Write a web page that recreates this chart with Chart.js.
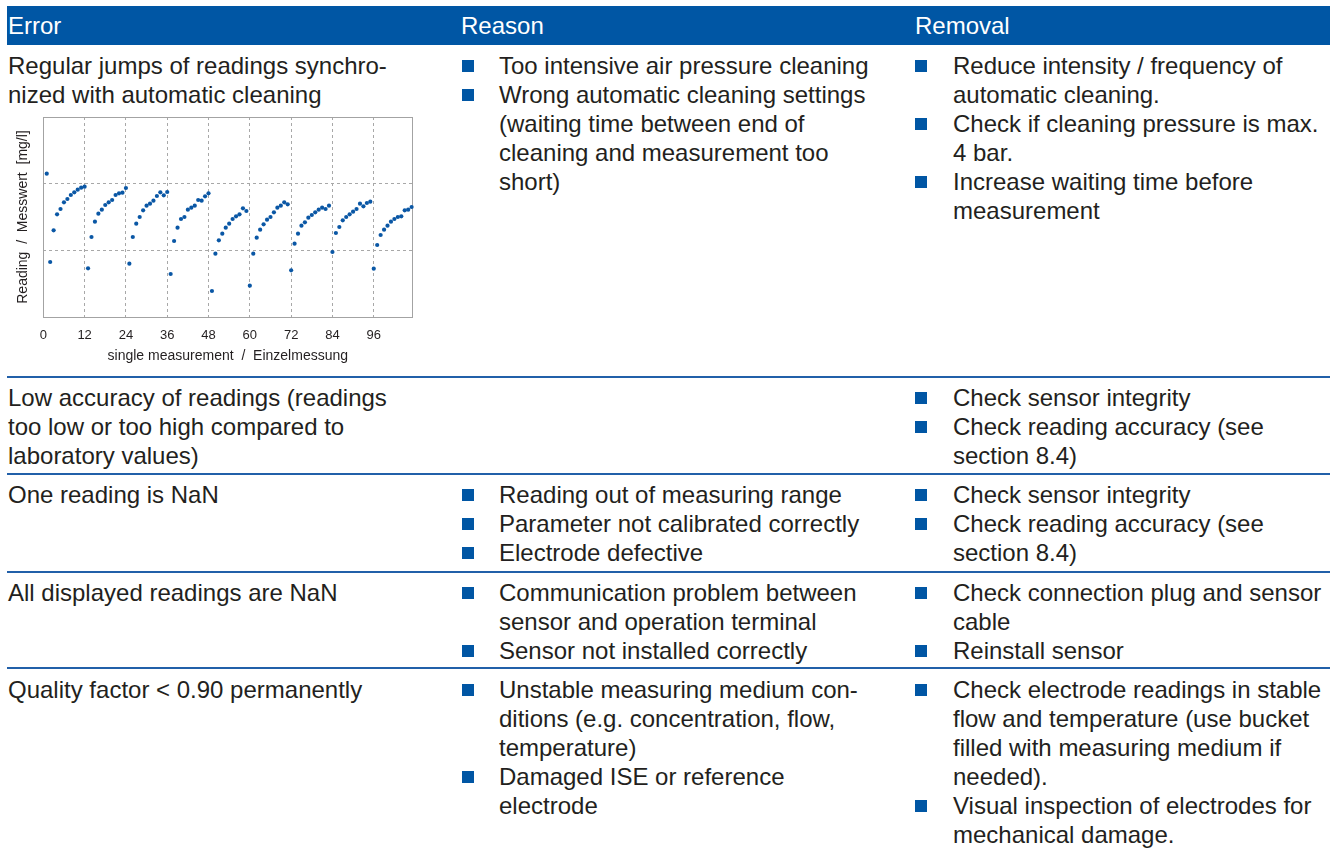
<!DOCTYPE html>
<html>
<head>
<meta charset="utf-8">
<script src="https://cdn.jsdelivr.net/npm/chart.js@4.4.1/dist/chart.umd.min.js"></script>
<style>
  body { margin: 0; background: #fff; }
  #page { position: relative; width: 1336px; height: 852px; overflow: hidden;
          font-family: "Liberation Sans", Arial, sans-serif; font-size: 24px; line-height: 29px; color: #231f20; }
  .head { position: absolute; left: 7px; top: 6px; width: 1323px; height: 39px; background: #0056a4; }
  .head div { position: absolute; top: 5px; color: #fff; white-space: nowrap; }
  .sep { position: absolute; left: 7px; width: 1323px; height: 2px; background: #2160a9; }
  .cell { position: absolute; white-space: nowrap; }
  .li { position: relative; padding-left: 38px; }
  .li::before { content: ""; position: absolute; left: 1px; top: 9px; width: 11.5px; height: 11.5px; background: #0056a4; }
  .rm .li { padding-left: 39px; }
  #chart { position: absolute; left: 0; top: 100px; }
</style>
</head>
<body>
<div id="page">
  <div class="head">
    <div style="left:1px">Error</div>
    <div style="left:454px">Reason</div>
    <div style="left:908px">Removal</div>
  </div>

  <!-- row 1 -->
  <div class="cell" style="left:8px; top:51px">Regular jumps of readings synchro-<br>nized with automatic cleaning</div>
  <div class="cell" style="left:461px; top:51px">
    <div class="li">Too intensive air pressure cleaning</div>
    <div class="li">Wrong automatic cleaning settings<br>(waiting time between end of<br>cleaning and measurement too<br>short)</div>
  </div>
  <div class="cell rm" style="left:914px; top:51px">
    <div class="li">Reduce intensity / frequency of<br>automatic cleaning.</div>
    <div class="li">Check if cleaning pressure is max.<br>4 bar.</div>
    <div class="li">Increase waiting time before<br>measurement</div>
  </div>
  <canvas id="chart" width="420" height="270"></canvas>
  <div class="sep" style="top:376px"></div>

  <!-- row 2 -->
  <div class="cell" style="left:8px; top:383px">Low accuracy of readings (readings<br>too low or too high compared to<br>laboratory values)</div>
  <div class="cell rm" style="left:914px; top:383px">
    <div class="li">Check sensor integrity</div>
    <div class="li">Check reading accuracy (see<br>section 8.4)</div>
  </div>
  <div class="sep" style="top:473px"></div>

  <!-- row 3 -->
  <div class="cell" style="left:8px; top:480px">One reading is NaN</div>
  <div class="cell" style="left:461px; top:480px">
    <div class="li">Reading out of measuring range</div>
    <div class="li">Parameter not calibrated correctly</div>
    <div class="li">Electrode defective</div>
  </div>
  <div class="cell rm" style="left:914px; top:480px">
    <div class="li">Check sensor integrity</div>
    <div class="li">Check reading accuracy (see<br>section 8.4)</div>
  </div>
  <div class="sep" style="top:571px"></div>

  <!-- row 4 -->
  <div class="cell" style="left:8px; top:578px">All displayed readings are NaN</div>
  <div class="cell" style="left:461px; top:578px">
    <div class="li">Communication problem between<br>sensor and operation terminal</div>
    <div class="li">Sensor not installed correctly</div>
  </div>
  <div class="cell rm" style="left:914px; top:578px">
    <div class="li">Check connection plug and sensor<br>cable</div>
    <div class="li">Reinstall sensor</div>
  </div>
  <div class="sep" style="top:667px"></div>

  <!-- row 5 -->
  <div class="cell" style="left:8px; top:675px">Quality factor &lt; 0.90 permanently</div>
  <div class="cell" style="left:461px; top:675px">
    <div class="li">Unstable measuring medium con-<br>ditions (e.g. concentration, flow,<br>temperature)</div>
    <div class="li">Damaged ISE or reference<br>electrode</div>
  </div>
  <div class="cell rm" style="left:914px; top:675px">
    <div class="li">Check electrode readings in stable<br>flow and temperature (use bucket<br>filled with measuring medium if<br>needed).</div>
    <div class="li">Visual inspection of electrodes for<br>mechanical damage.</div>
  </div>
</div>

<script>
// reading of each single measurement, measurement number = index + 1
const readings = [
  2.15, 0.825, 1.30, 1.54, 1.62, 1.72, 1.77, 1.83, 1.87, 1.91, 1.94, 1.955,
  0.73, 1.20, 1.43, 1.55, 1.61, 1.68, 1.72, 1.755, 1.83, 1.855, 1.865, 1.935,
  0.80, 1.20, 1.40, 1.50, 1.60, 1.67, 1.70, 1.745, 1.815, 1.87, 1.825, 1.875,
  0.645, 1.14, 1.34, 1.47, 1.50, 1.61, 1.64, 1.67, 1.755, 1.745, 1.81, 1.855,
  0.39, 0.95, 1.15, 1.25, 1.34, 1.40, 1.47, 1.51, 1.54, 1.63, 1.59,
  0.47, 0.95, 1.19, 1.31, 1.39, 1.46, 1.50, 1.57, 1.64, 1.67, 1.72, 1.69,
  0.70, 1.10, 1.25, 1.37, 1.42, 1.49, 1.53, 1.57, 1.61, 1.64, 1.62, 1.67,
  0.975, 1.26, 1.35, 1.45, 1.50, 1.54, 1.58, 1.62, 1.70, 1.66, 1.71, 1.73,
  0.725, 1.08, 1.23, 1.31, 1.37, 1.43, 1.47, 1.50, 1.51, 1.60, 1.61, 1.65
];
const xTickStep = 12;
const xTitle = 'single measurement  /  Einzelmessung';
const yTitle = 'Reading  /  Messwert  [mg/l]';

const fontFamily = '"Liberation Sans", Arial, sans-serif';
const textColor = '#231f20';

// solid frame around the plot area
const frame = {
  id: 'frame',
  beforeDatasetsDraw(chart) {
    const { ctx, chartArea: a } = chart;
    ctx.save();
    ctx.strokeStyle = '#a3a3a3';
    ctx.lineWidth = 1;
    ctx.strokeRect(Math.round(a.left) + 0.5, Math.round(a.top) + 0.5,
      Math.round(a.right - a.left), Math.round(a.bottom - a.top));
    ctx.restore();
  }
};

new Chart(document.getElementById('chart').getContext('2d'), {
  type: 'scatter',
  data: {
    datasets: [{
      data: readings.map((y, i) => ({ x: i + 1, y: y })),
      backgroundColor: '#0a57a5',
      borderWidth: 0,
      pointRadius: 2.1,
      clip: false
    }]
  },
  options: {
    responsive: false,
    animation: false,
    layout: { padding: { top: 17, right: 7.7, left: 0, bottom: 0 } },
    plugins: {
      legend: { display: false },
      tooltip: { enabled: false }
    },
    scales: {
      x: {
        type: 'linear',
        min: 0,
        max: 107.2,
        afterFit: s => { s.height = 53; },
        ticks: {
          stepSize: xTickStep,
          includeBounds: false,
          padding: 11,
          color: textColor,
          font: { family: fontFamily, size: 13 }
        },
        grid: { color: '#a8a8a8', drawTicks: false },
        border: { display: false, dash: [3, 3] },
        title: {
          display: true,
          text: xTitle,
          color: textColor,
          font: { family: fontFamily, size: 14 },
          padding: { top: 0, bottom: 5.8 }
        }
      },
      y: {
        min: 0,
        max: 3,
        afterFit: s => { s.width = 43.3; },
        ticks: { stepSize: 1, display: false },
        grid: { color: '#a8a8a8', drawTicks: false },
        border: { display: false, dash: [3, 3] },
        title: {
          display: true,
          text: yTitle,
          color: textColor,
          font: { family: fontFamily, size: 14 },
          padding: { top: 14.6, bottom: 0 }
        }
      }
    }
  },
  plugins: [frame]
});
</script>
</body>
</html>
